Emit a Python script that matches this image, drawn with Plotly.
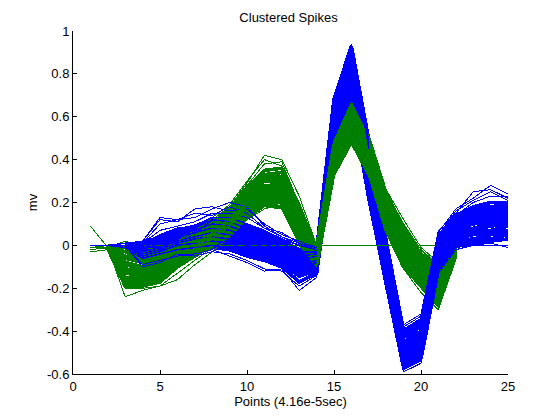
import plotly.graph_objects as go

points = list(range(1, 26))
x_ticks = [0, 5, 10, 15, 20, 25]
y_ticks = [-0.6, -0.4, -0.2, 0, 0.2, 0.4, 0.6, 0.8, 1]
y_labels = ["-0.6", "-0.4", "-0.2", "0", "0.2", "0.4", "0.6", "0.8", "1"]

zero_trace = [0] * 25

blue_01 = [0,0,-0.01,-0.07,-0.05,-0.03,-0.02,-0.01,-0.02,-0.05,-0.07,-0.10,-0.17,-0.13,0.45,0.68,0.22,-0.18,-0.57,-0.53,-0.11,0.00,0.01,0.02,0.03]
blue_02 = [0,0,-0.01,-0.06,-0.04,-0.02,-0.01,0.00,-0.01,-0.04,-0.06,-0.09,-0.15,-0.12,0.47,0.70,0.24,-0.16,-0.56,-0.52,-0.10,0.01,0.02,0.03,0.05]
blue_03 = [0,0,-0.01,-0.05,-0.04,-0.01,0.00,0.01,0.00,-0.03,-0.05,-0.08,-0.14,-0.11,0.48,0.72,0.25,-0.15,-0.55,-0.51,-0.09,0.02,0.03,0.05,0.06]
blue_04 = [0,0,0.00,-0.05,-0.03,0.00,0.01,0.02,0.01,-0.02,-0.04,-0.07,-0.13,-0.10,0.50,0.74,0.27,-0.14,-0.54,-0.50,-0.08,0.03,0.05,0.06,0.07]
blue_05 = [0,0,0.00,-0.04,-0.02,0.00,0.02,0.03,0.02,-0.01,-0.03,-0.07,-0.12,-0.09,0.51,0.76,0.29,-0.13,-0.53,-0.49,-0.07,0.04,0.06,0.07,0.09]
blue_06 = [0,0,0.00,-0.04,-0.02,0.01,0.03,0.04,0.03,0.00,-0.02,-0.06,-0.11,-0.08,0.53,0.78,0.31,-0.11,-0.52,-0.48,-0.06,0.05,0.07,0.09,0.10]
blue_07 = [0,0,0.00,-0.03,-0.01,0.02,0.03,0.05,0.04,0.01,-0.02,-0.05,-0.10,-0.07,0.54,0.79,0.32,-0.10,-0.51,-0.47,-0.05,0.06,0.08,0.10,0.11]
blue_08 = [0,0,0.00,-0.03,-0.01,0.02,0.04,0.06,0.05,0.02,-0.01,-0.04,-0.09,-0.07,0.56,0.81,0.34,-0.09,-0.50,-0.46,-0.04,0.07,0.10,0.11,0.12]
blue_09 = [0,0,0.00,-0.02,0.00,0.03,0.05,0.07,0.06,0.03,0.00,-0.03,-0.08,-0.06,0.57,0.83,0.36,-0.08,-0.49,-0.45,-0.03,0.08,0.11,0.12,0.13]
blue_10 = [0,0,0.00,-0.02,0.01,0.04,0.06,0.08,0.07,0.04,0.01,-0.03,-0.07,-0.05,0.59,0.84,0.38,-0.06,-0.48,-0.44,-0.02,0.09,0.12,0.13,0.14]
blue_11 = [0,0,0.00,-0.01,0.01,0.04,0.06,0.09,0.08,0.05,0.02,-0.02,-0.06,-0.05,0.60,0.86,0.40,-0.05,-0.47,-0.42,-0.01,0.10,0.13,0.14,0.15]
blue_12 = [0,0,0.00,-0.01,0.02,0.05,0.07,0.10,0.09,0.06,0.03,-0.01,-0.05,-0.04,0.62,0.87,0.41,-0.04,-0.46,-0.41,0.00,0.11,0.14,0.15,0.16]
blue_13 = [0,0,0.00,0.00,0.03,0.05,0.08,0.11,0.10,0.07,0.04,0.00,-0.04,-0.03,0.63,0.89,0.43,-0.03,-0.45,-0.40,0.01,0.12,0.15,0.16,0.17]
blue_14 = [0,0,0.00,0.00,0.03,0.06,0.08,0.12,0.11,0.08,0.05,0.01,-0.03,-0.03,0.65,0.90,0.45,-0.01,-0.43,-0.38,0.02,0.12,0.16,0.17,0.18]
blue_15 = [0,0,0.00,0.01,0.04,0.07,0.09,0.12,0.12,0.09,0.06,0.02,-0.02,-0.02,0.66,0.92,0.47,0.00,-0.42,-0.37,0.03,0.13,0.17,0.18,0.19]
blue_16 = [0,0,0.01,0.01,0.05,0.08,0.09,0.13,0.13,0.10,0.07,0.03,0.00,-0.02,0.68,0.93,0.49,0.02,-0.40,-0.35,0.04,0.14,0.18,0.20,0.20]
blue_17 = [0,0,0.00,-0.09,-0.07,-0.05,-0.04,-0.02,-0.05,-0.08,-0.12,-0.11,-0.21,-0.15,0.42,0.64,0.20,-0.20,-0.59,-0.55,-0.13,-0.02,0.00,0.01,-0.01]
blue_18 = [0,0,0.00,-0.10,-0.08,-0.04,-0.05,-0.03,-0.04,-0.07,-0.11,-0.12,-0.19,-0.14,0.44,0.66,0.21,-0.19,-0.58,-0.54,-0.12,-0.01,0.00,0.00,0.00]
blue_19 = [0,0,0.01,0.02,0.12,0.11,0.17,0.18,0.16,0.17,0.10,0.05,0.02,-0.01,0.69,0.94,0.50,0.04,-0.37,-0.32,0.06,0.17,0.22,0.28,0.24]
blue_20 = [0,0,0.01,0.02,0.13,0.12,0.13,0.17,0.20,0.18,0.09,0.04,0.01,-0.01,0.69,0.93,0.49,0.03,-0.38,-0.33,0.07,0.15,0.25,0.26,0.22]
blue_21 = [0,0,0.01,0.01,0.10,0.12,0.15,0.14,0.18,0.15,0.08,0.06,0.01,-0.02,0.68,0.92,0.48,0.03,-0.39,-0.34,0.05,0.16,0.21,0.25,0.21]
blue_22 = [0,0,0.00,0.01,0.07,0.09,0.11,0.15,0.15,0.13,0.08,0.04,0.00,-0.02,0.67,0.92,0.48,0.02,-0.40,-0.35,0.05,0.14,0.20,0.23,0.23]

green_01 = [-0.01,-0.015,-0.19,-0.19,-0.17,-0.10,-0.05,0.00,0.05,0.13,0.19,0.18,0.02,-0.09,0.34,0.50,0.34,0.07,-0.10,-0.19,-0.28,-0.05,-0.02,-0.01,0]
green_02 = [-0.01,-0.01,-0.18,-0.18,-0.16,-0.09,-0.04,0.01,0.06,0.14,0.20,0.20,0.03,-0.08,0.35,0.51,0.35,0.08,-0.08,-0.18,-0.27,-0.05,-0.02,-0.01,0]
green_03 = [-0.01,-0.01,-0.17,-0.17,-0.15,-0.08,-0.03,0.02,0.07,0.15,0.21,0.21,0.04,-0.08,0.36,0.52,0.36,0.09,-0.07,-0.17,-0.26,-0.04,-0.02,-0.01,0]
green_04 = [0.00,-0.01,-0.16,-0.16,-0.14,-0.08,-0.03,0.02,0.08,0.16,0.22,0.22,0.05,-0.07,0.37,0.53,0.37,0.10,-0.06,-0.16,-0.25,-0.04,-0.01,0,0]
green_05 = [0.00,-0.01,-0.15,-0.15,-0.13,-0.07,-0.02,0.03,0.09,0.17,0.24,0.23,0.06,-0.07,0.38,0.54,0.38,0.12,-0.05,-0.15,-0.24,-0.03,-0.01,0,0]
green_06 = [0.00,-0.01,-0.13,-0.14,-0.12,-0.06,-0.01,0.04,0.10,0.18,0.25,0.25,0.07,-0.06,0.39,0.55,0.39,0.13,-0.03,-0.13,-0.22,-0.03,-0.01,0,0]
green_07 = [0.00,-0.01,-0.12,-0.13,-0.11,-0.06,-0.01,0.05,0.11,0.19,0.26,0.26,0.08,-0.05,0.40,0.56,0.40,0.14,-0.02,-0.12,-0.21,-0.02,-0.01,0,0]
green_08 = [0.00,0.00,-0.11,-0.12,-0.10,-0.05,0.00,0.05,0.12,0.20,0.27,0.27,0.09,-0.05,0.41,0.57,0.41,0.16,-0.01,-0.11,-0.20,-0.02,0,0,0]
green_09 = [0.00,0.00,-0.09,-0.11,-0.09,-0.04,0.01,0.06,0.13,0.21,0.28,0.28,0.10,-0.04,0.42,0.58,0.42,0.17,0.01,-0.10,-0.18,-0.02,0,0,0]
green_10 = [0.00,0.00,-0.08,-0.10,-0.08,-0.04,0.01,0.07,0.14,0.22,0.30,0.29,0.11,-0.04,0.43,0.59,0.43,0.18,0.02,-0.09,-0.17,-0.01,0,0,0]
green_11 = [0.00,0.00,-0.06,-0.08,-0.07,-0.03,0.02,0.08,0.14,0.23,0.31,0.31,0.12,-0.03,0.44,0.60,0.45,0.20,0.04,-0.07,-0.15,-0.01,0,0,0]
green_12 = [0.00,0.00,-0.05,-0.07,-0.06,-0.02,0.03,0.08,0.15,0.24,0.32,0.32,0.13,-0.03,0.45,0.62,0.46,0.21,0.05,-0.06,-0.14,-0.01,0,0,0]
green_13 = [0.00,0.00,-0.03,-0.06,-0.05,-0.02,0.03,0.09,0.16,0.25,0.33,0.34,0.15,-0.02,0.46,0.63,0.48,0.23,0.07,-0.05,-0.12,0,0,0,0]
green_14 = [0.00,0.00,-0.01,-0.04,-0.04,-0.01,0.04,0.10,0.17,0.27,0.35,0.36,0.17,-0.01,0.47,0.65,0.50,0.24,0.08,-0.04,-0.10,0,0,0,0]
green_15 = [0.09,-0.01,-0.24,-0.21,-0.19,-0.16,-0.09,-0.03,0.04,0.12,0.17,0.19,0.00,-0.10,0.32,0.47,0.32,0.06,-0.11,-0.22,-0.30,-0.05,-0.02,-0.01,0]
green_16 = [-0.03,-0.02,-0.20,-0.20,-0.19,-0.13,-0.07,-0.01,0.05,0.12,0.18,0.17,0.01,-0.09,0.33,0.48,0.33,0.07,-0.10,-0.20,-0.29,-0.06,-0.03,-0.01,0]
green_17 = [-0.02,-0.01,0.02,-0.01,-0.02,0.02,0.07,0.12,0.18,0.29,0.42,0.40,0.23,0.00,0.48,0.66,0.51,0.26,0.12,-0.01,-0.08,0,0,0,0]
green_18 = [0.00,0.00,0.01,-0.02,-0.03,0.01,0.06,0.13,0.19,0.30,0.40,0.37,0.20,0.00,0.49,0.67,0.50,0.25,0.10,-0.02,-0.09,0,0,0,0]
green_19 = [-0.03,-0.02,0.00,-0.03,-0.03,0.00,0.05,0.11,0.18,0.28,0.38,0.39,0.19,-0.01,0.48,0.64,0.49,0.25,0.09,-0.02,-0.10,0,0,0,0]

blue_rows = [blue_01, blue_02, blue_03, blue_04, blue_05, blue_06, blue_07, blue_08,
             blue_09, blue_10, blue_11, blue_12, blue_13, blue_14, blue_15, blue_16]
blue_extra = [blue_17, blue_18, blue_19, blue_20, blue_21, blue_22]
green_rows = [green_01, green_02, green_03, green_04, green_05, green_06, green_07,
              green_08, green_09, green_10, green_11, green_12, green_13, green_14]
green_extra = [green_15, green_16, green_17, green_18, green_19]

BLUE = "#0000ff"
GREEN = "#007f00"
CORE_W = 3.6
LEFT_W = 1.5
THIN_W = 1


def add(fig, xs, ys, color, width):
    fig.add_trace(go.Scatter(x=xs, y=ys, mode="lines", hoverinfo="skip",
                             line=dict(color=color, width=width)))


fig = go.Figure()

# The peak and the trough: blue lies under green from point 14 to 20.
for row in blue_rows:
    add(fig, points[13:20], row[13:20], BLUE, CORE_W)
for row in blue_extra:
    add(fig, points[13:20], row[13:20], BLUE, THIN_W)
# Half the blue rows also lie under green on the left.
for row in blue_rows[::2]:
    add(fig, points[2:14], row[2:14], BLUE, CORE_W)

add(fig, points, zero_trace, GREEN, THIN_W)
for row in green_rows:
    add(fig, points[:2], row[:2], GREEN, THIN_W)
    add(fig, points[1:22], row[1:22], GREEN, CORE_W)
for row in green_extra:
    add(fig, points[:22], row[:22], GREEN, THIN_W)

for row in blue_rows[1::2]:
    add(fig, points[:14], row[:14], BLUE, LEFT_W)
for row in blue_extra:
    add(fig, points[:14], row[:14], BLUE, THIN_W)
# A few green rows cross over the blue near the rising shoulder.
for row in green_rows[4:9]:
    add(fig, points[6:11], row[6:11], GREEN, THIN_W)
# A few blue rows cross over green on the falling side of the peak.
for row in blue_rows[13:16]:
    add(fig, points[15:17], row[15:17], BLUE, THIN_W)
# Blue rises over green after the trough and stays on top to the end.
for row in blue_rows:
    add(fig, points[19:], row[19:], BLUE, CORE_W)
for row in blue_extra:
    add(fig, points[19:], row[19:], BLUE, THIN_W)

fig.update_layout(
    width=560, height=420,
    margin=dict(l=73, r=52, t=31, b=46),
    paper_bgcolor="white", plot_bgcolor="white",
    showlegend=False,
    font=dict(family="Liberation Sans, Arial, sans-serif", size=13, color="black"),
    title=dict(text="Clustered Spikes", font=dict(size=13), x=288.5 / 560,
               xanchor="center", y=1 - 17 / 420, yanchor="middle"),
)
fig.update_xaxes(range=[0, 25], tickvals=x_ticks, ticks="inside", ticklen=4,
                 tickcolor="black", showgrid=False, zeroline=False, showline=True,
                 linecolor="black", linewidth=1, tickfont=dict(size=13),
                 title=dict(text="Points (4.16e-5sec)", font=dict(size=13), standoff=3))
fig.update_yaxes(range=[-0.6, 1], tickvals=y_ticks, ticktext=y_labels, ticks="inside",
                 ticklen=4, tickcolor="black", showgrid=False, zeroline=False,
                 showline=True, linecolor="black", linewidth=1, tickfont=dict(size=13),
                 title=dict(text="mv", font=dict(size=13), standoff=6))

fig.write_html("out.html", config=dict(displayModeBar=False),
               post_script="var s=document.createElement('style');"
                           "s.textContent='body{margin:0}.scatterlayer path{shape-rendering:crispEdges}';"
                           "document.head.appendChild(s);")
